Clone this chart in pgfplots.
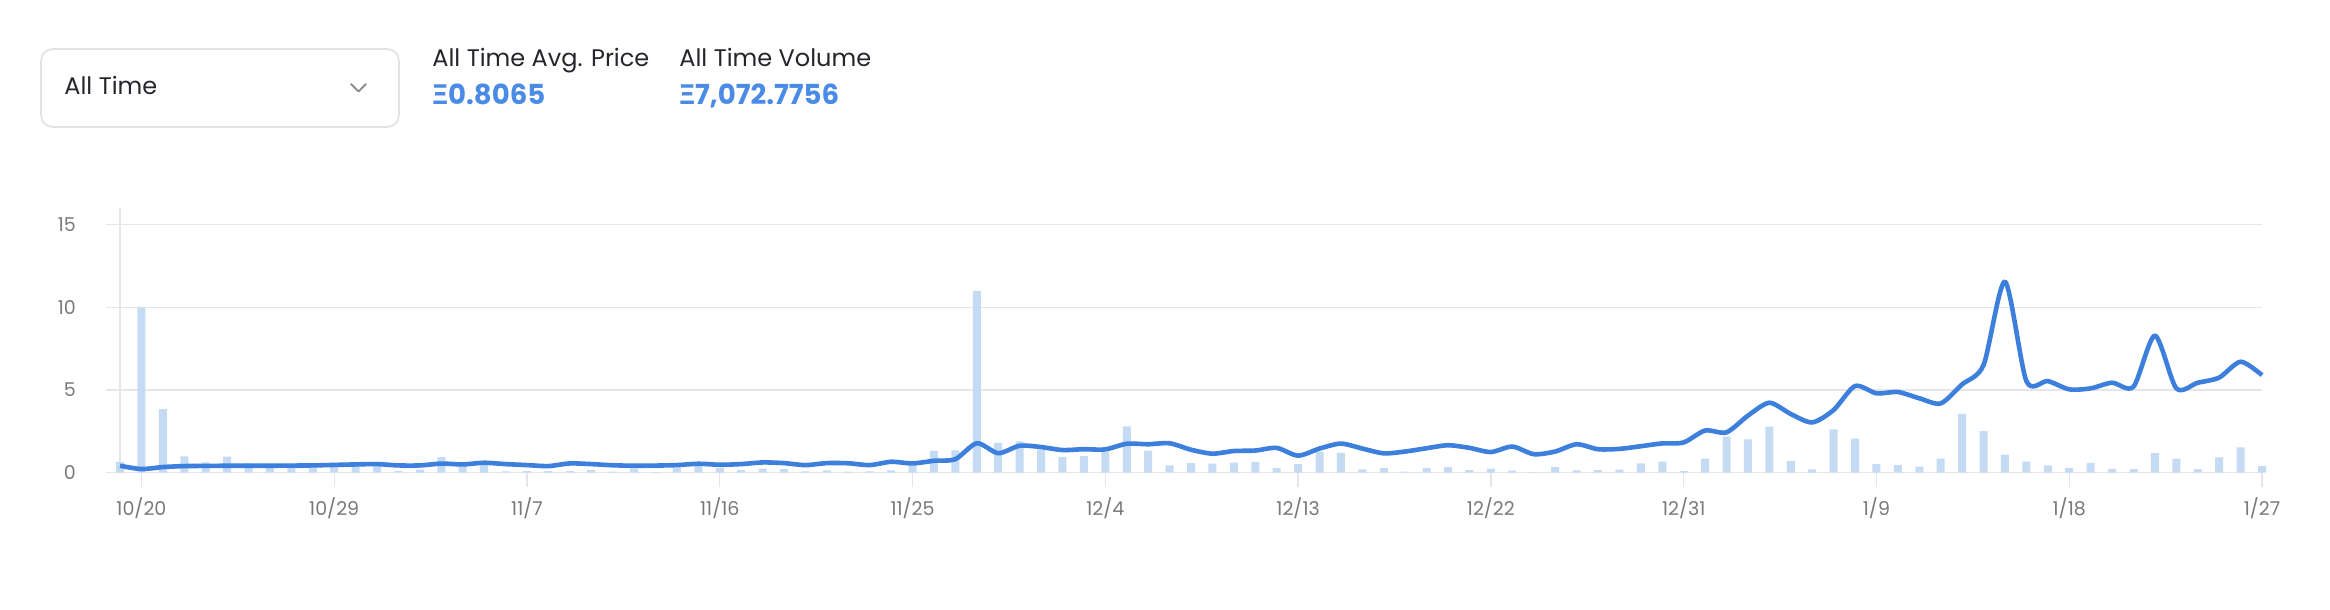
\documentclass[border=0pt]{standalone}
\usepackage{pgfplots}
\pgfplotsset{compat=1.18}
\usepackage{pgfplotstable}
\usepackage{fontspec}
\setmainfont{Poppins}
\newfontfamily\xifont{Open Sans}
\definecolor{gridc}{HTML}{E6E6EA}
\definecolor{barc}{HTML}{C5DBF4}
\definecolor{linec}{HTML}{3D7FDC}
\definecolor{valc}{HTML}{4A8BE6}
\definecolor{txtc}{HTML}{25262B}
\definecolor{tickc}{HTML}{7A7A7A}
\definecolor{boxc}{HTML}{E2E2E6}
\definecolor{chevc}{HTML}{8E8E93}

\pgfplotstableread{
d vol price
0 0.66 0.42
1 10.0 0.22
2 3.85 0.34
3 0.98 0.40
4 0.63 0.41
5 0.97 0.42
6 0.56 0.42
7 0.35 0.42
8 0.35 0.43
9 0.35 0.44
10 0.38 0.47
11 0.63 0.50
12 0.60 0.52
13 0.10 0.44
14 0.18 0.44
15 0.94 0.55
16 0.50 0.50
17 0.60 0.60
18 0.08 0.52
19 0.10 0.46
20 0.10 0.40
21 0.10 0.56
22 0.16 0.52
23 0.06 0.45
24 0.24 0.42
25 0.04 0.43
26 0.32 0.46
27 0.44 0.54
28 0.28 0.48
29 0.16 0.52
30 0.24 0.62
31 0.22 0.58
32 0.08 0.46
33 0.14 0.58
34 0.06 0.57
35 0.08 0.46
36 0.14 0.66
37 0.44 0.56
38 1.31 0.72
39 1.35 0.82
40 11.0 1.78
41 1.80 1.18
42 1.90 1.63
43 1.40 1.55
44 0.95 1.37
45 1.00 1.42
46 1.26 1.41
47 2.80 1.75
48 1.33 1.72
49 0.45 1.78
50 0.58 1.39
51 0.55 1.15
52 0.61 1.31
53 0.66 1.34
54 0.28 1.50
55 0.52 1.03
56 1.28 1.46
57 1.20 1.76
58 0.20 1.46
59 0.28 1.17
60 0.06 1.28
61 0.28 1.48
62 0.34 1.66
63 0.15 1.50
64 0.25 1.25
65 0.12 1.58
66 0.04 1.12
67 0.34 1.28
68 0.14 1.72
69 0.16 1.42
70 0.18 1.44
71 0.57 1.60
72 0.67 1.77
73 0.10 1.83
74 0.85 2.55
75 2.18 2.44
76 2.02 3.45
77 2.78 4.23
78 0.70 3.55
79 0.20 3.04
80 2.62 3.79
81 2.06 5.24
82 0.52 4.80
83 0.46 4.88
84 0.36 4.50
85 0.85 4.19
86 3.55 5.34
87 2.52 6.51
88 1.09 11.55
89 0.67 5.54
90 0.44 5.54
91 0.28 5.04
92 0.60 5.10
93 0.22 5.44
94 0.22 5.20
95 1.19 8.29
96 0.85 5.10
97 0.22 5.44
98 0.93 5.75
99 1.53 6.71
100 0.40 5.90
}\data

\begin{document}
\begin{tikzpicture}[x=0.5pt,y=0.5pt]
\fill[white] (0,0) rectangle (2330,610);
% dropdown box
\draw[boxc, line width=0.8pt, rounded corners=6pt] (41,610-49) rectangle (399,610-127);
\node[anchor=base west, inner sep=0, text=txtc, font=\fontsize{12}{14}\selectfont] at (64,610-94.3) {All Time};
\draw[chevc, line width=1pt, line cap=round, line join=round] (351,610-84) -- (358.5,610-91.5) -- (366,610-84);
% stats
\node[anchor=base west, inner sep=0, text=txtc, font=\fontsize{12}{14}\selectfont] at (432,610-67) {All Time Avg. Price};
\node[anchor=base west, inner sep=0, text=valc, font=\fontsize{13.8}{16}\selectfont\bfseries] at (432,610-105) {{\xifont\bfseries Ξ}0.8065};
\node[anchor=base west, inner sep=0, text=txtc, font=\fontsize{12}{14}\selectfont] at (679,610-67) {All Time Volume};
\node[anchor=base west, inner sep=0, text=valc, font=\fontsize{13.8}{16}\selectfont\bfseries] at (679,610-105) {{\xifont\bfseries Ξ}7,072.7756};
\begin{axis}[
  at={(60pt,68.65pt)}, anchor=south west,
  scale only axis, width=1071pt, height=132.3pt,
  xmin=0, xmax=100, ymin=0, ymax=16,
  clip=false,
  axis lines=left,
  axis line style={-, draw=gridc, line width=0.7pt},
  ymajorgrids,
  grid style={gridc, line width=0.7pt},
  xtick={1,10,19,28,37,46,55,64,73,82,91,100},
  xticklabels={10/20,10/29,11/7,11/16,11/25,12/4,12/13,12/22,12/31,1/9,1/18,1/27},
  ytick={0,5,10,15},
  tick align=outside,
  major tick length=7pt,
  tick style={gridc, line width=0.7pt},
  ticklabel style={font=\fontsize{9.5}{11}\selectfont, text=tickc},
  yticklabel style={xshift=-11.5pt},
  xticklabel style={yshift=-2pt},
  /pgf/number format/assume math mode=true,
]
\addplot[ybar, bar width=4pt, fill=barc, draw=none] table[x=d,y=vol]{\data};
\addplot[linec, line width=2.3pt, smooth, tension=0.45, no marks, line join=round] table[x=d,y=price]{\data};
\end{axis}
\end{tikzpicture}
\end{document}
